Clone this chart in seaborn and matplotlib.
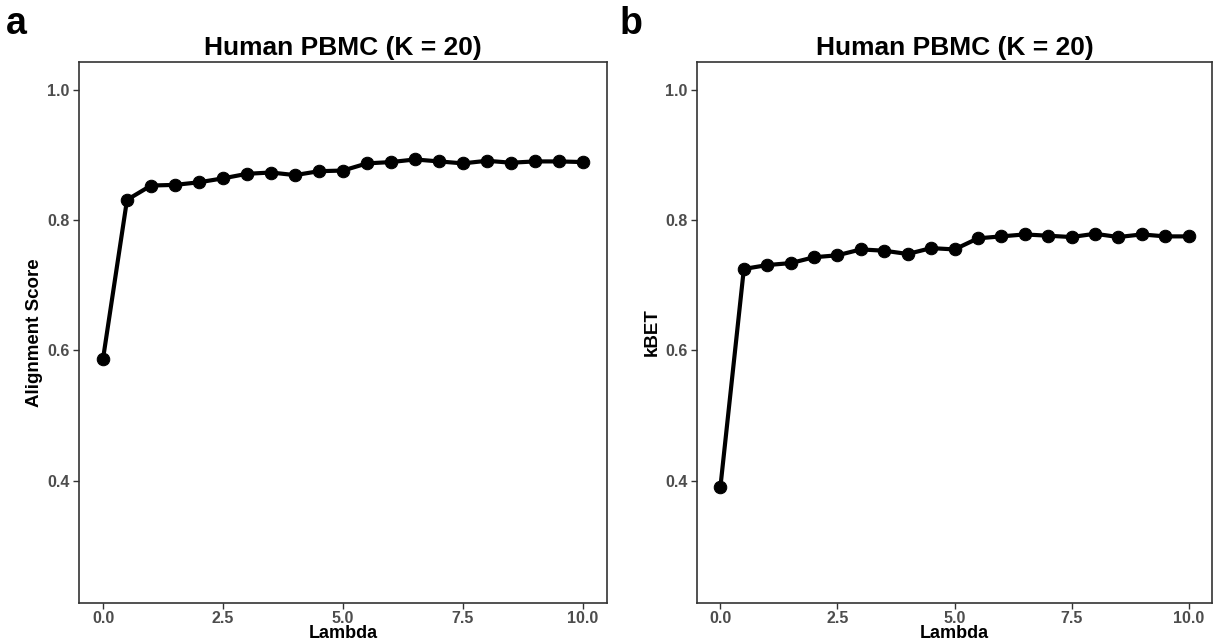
import matplotlib
matplotlib.use("Agg")
import matplotlib.pyplot as plt
import seaborn as sns
import pandas as pd

lambdas = [0.0, 0.5, 1.0, 1.5, 2.0, 2.5, 3.0, 3.5, 4.0, 4.5, 5.0,
           5.5, 6.0, 6.5, 7.0, 7.5, 8.0, 8.5, 9.0, 9.5, 10.0]
alignment = [0.587, 0.831, 0.853, 0.854, 0.858, 0.864, 0.871, 0.873, 0.869, 0.875, 0.876,
             0.887, 0.889, 0.893, 0.890, 0.887, 0.891, 0.888, 0.890, 0.890, 0.889]
kbet = [0.391, 0.725, 0.731, 0.734, 0.743, 0.746, 0.755, 0.753, 0.748, 0.757, 0.755,
        0.772, 0.775, 0.778, 0.776, 0.774, 0.779, 0.774, 0.778, 0.775, 0.775]
title = "Human PBMC (K = 20)"
ylabels = ["Alignment Score", "kBET"]
panel_letters = ["a", "b"]
xticks = [0.0, 2.5, 5.0, 7.5, 10.0]
yticks = [0.4, 0.6, 0.8, 1.0]

sns.set_theme(style="white")
plt.rcParams['font.family'] = ['Liberation Sans', 'DejaVu Sans']

fig = plt.figure(figsize=(12.25, 6.42), dpi=100)
axes = [fig.add_axes([0.0645, 0.0607, 0.4310, 0.8427]),
        fig.add_axes([0.5690, 0.0607, 0.4204, 0.8427])]

for ax, vals, ylab, letter in zip(axes, [alignment, kbet], ylabels, panel_letters):
    df = pd.DataFrame({"Lambda": lambdas, "val": vals})
    sns.lineplot(data=df, x="Lambda", y="val", ax=ax, color="black", linewidth=3.0,
                 marker="o", markersize=9, markeredgecolor="black")
    ax.set_xlim(-0.5, 10.5)
    ax.set_ylim(0.2125, 1.0425)
    ax.set_xticks(xticks)
    ax.set_xticklabels([f"{t:.1f}" for t in xticks])
    ax.set_yticks(yticks)
    ax.set_yticklabels([f"{t:.1f}" for t in yticks])
    ax.tick_params(axis="both", which="both", direction="out", length=4, width=1,
                   color="#333333", labelcolor="#4D4D4D", labelsize=11.5, pad=3,
                   bottom=True, left=True)
    ax.tick_params(axis="x", pad=2)
    for lbl in ax.get_xticklabels() + ax.get_yticklabels():
        lbl.set_fontweight("bold")
    for s in ax.spines.values():
        s.set_color("#333333")
        s.set_linewidth(1.2)
        s.set_visible(True)
    ax.set_xlabel("Lambda", fontsize=13, fontweight="bold", color="black", labelpad=-1)
    ax.set_ylabel(ylab, fontsize=13.5, fontweight="bold", color="black", labelpad=3)
    ax.set_title(title, fontsize=19, fontweight="bold", color="black", pad=5)
    ax.grid(False)

fig.text(0.005, 0.99, panel_letters[0], fontsize=27, fontweight="bold", va="top", ha="left",
         color="black")
fig.text(0.506, 0.99, panel_letters[1], fontsize=27, fontweight="bold", va="top", ha="left",
         color="black")

fig.savefig("out.png", dpi=100, facecolor="white")
